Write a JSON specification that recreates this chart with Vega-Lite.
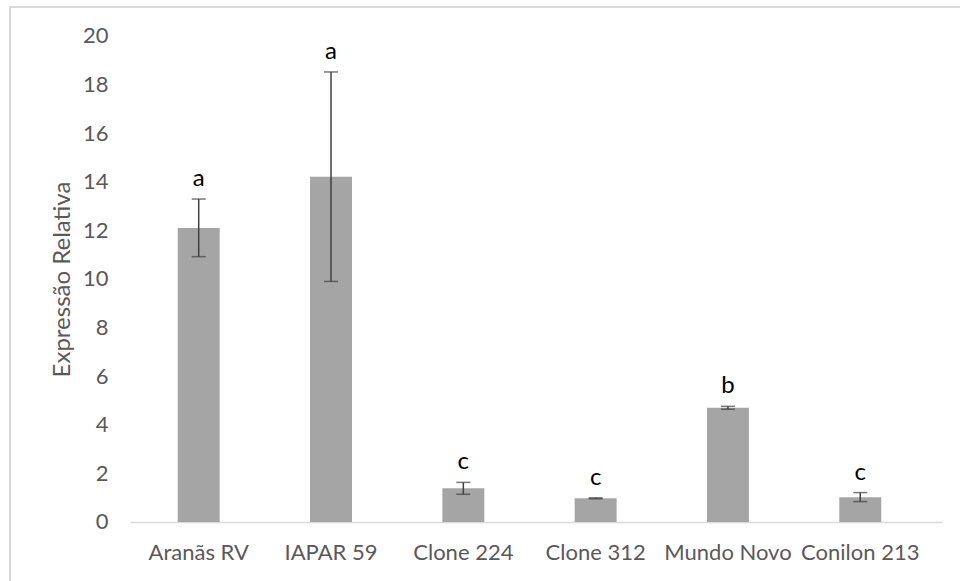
{
  "$schema": "https://vega.github.io/schema/vega-lite/v6.json",
  "autosize": {"type": "none"},
  "width": 955,
  "height": 580,
  "padding": {"left": 10, "top": 7, "right": -5, "bottom": -6},
  "background": "white",
  "config": {
    "view": {"stroke": "#d9d9d9", "strokeWidth": 2},
    "font": "Lato",
    "axis": {"grid": false, "labelFont": "Lato", "titleFont": "Lato"}
  },
  "data": {
    "values": [
      {"cultivar": "Aranãs RV", "value": 12.1, "lo": 10.92, "hi": 13.29, "letter": "a"},
      {"cultivar": "IAPAR 59", "value": 14.21, "lo": 9.9, "hi": 18.52, "letter": "a"},
      {"cultivar": "Clone 224", "value": 1.39, "lo": 1.14, "hi": 1.63, "letter": "c"},
      {"cultivar": "Clone 312", "value": 0.975, "lo": 0.955, "hi": 0.995, "letter": "c"},
      {"cultivar": "Mundo Novo", "value": 4.7, "lo": 4.64, "hi": 4.76, "letter": "b"},
      {"cultivar": "Conilon 213", "value": 1.02, "lo": 0.84, "hi": 1.21, "letter": "c"}
    ]
  },
  "encoding": {
    "x": {
      "field": "cultivar",
      "type": "nominal",
      "sort": null,
      "scale": {"range": [120, 932], "paddingInner": 0.683, "paddingOuter": 0.41, "align": 0.44},
      "axis": {
        "title": null,
        "orient": "bottom",
        "offset": -65,
        "labelAngle": 0,
        "labelFontSize": 22,
        "labelColor": "#595959",
        "labelPadding": 20,
        "ticks": false,
        "tickSize": 0,
        "domainColor": "#d9d9d9",
        "domainWidth": 1.5
      }
    }
  },
  "layer": [
    {
      "mark": {"type": "bar", "color": "#a5a5a5"},
      "encoding": {
        "y": {
          "field": "value",
          "type": "quantitative",
          "scale": {"domain": [-2.675, 21.193], "nice": false, "zero": false},
          "axis": {
            "title": "Expressão Relativa",
            "titleFontSize": 24,
            "titleFontWeight": "normal",
            "titleColor": "#595959",
            "titleX": -46,
            "titleY": 272,
            "titleAngle": 270,
            "titleAlign": "center",
            "titleBaseline": "middle",
            "values": [0, 2, 4, 6, 8, 10, 12, 14, 16, 18, 20],
            "offset": -98,
            "domain": false,
            "ticks": false,
            "tickSize": 0,
            "labelPadding": 0,
            "labelFontSize": 22,
            "labelColor": "#595959"
          }
        }
      }
    },
    {
      "mark": {"type": "rule", "color": "#404040", "strokeWidth": 1.5},
      "encoding": {
        "y": {"field": "lo", "type": "quantitative"},
        "y2": {"field": "hi"}
      }
    },
    {
      "mark": {"type": "tick", "orient": "horizontal", "color": "#404040", "thickness": 1.5, "size": 14},
      "encoding": {"y": {"field": "lo", "type": "quantitative"}}
    },
    {
      "mark": {"type": "tick", "orient": "horizontal", "color": "#404040", "thickness": 1.5, "size": 14},
      "encoding": {"y": {"field": "hi", "type": "quantitative"}}
    },
    {
      "mark": {"type": "text", "fontSize": 24, "color": "#000000", "baseline": "alphabetic", "dy": -13},
      "encoding": {
        "y": {"field": "hi", "type": "quantitative"},
        "text": {"field": "letter"}
      }
    }
  ]
}
